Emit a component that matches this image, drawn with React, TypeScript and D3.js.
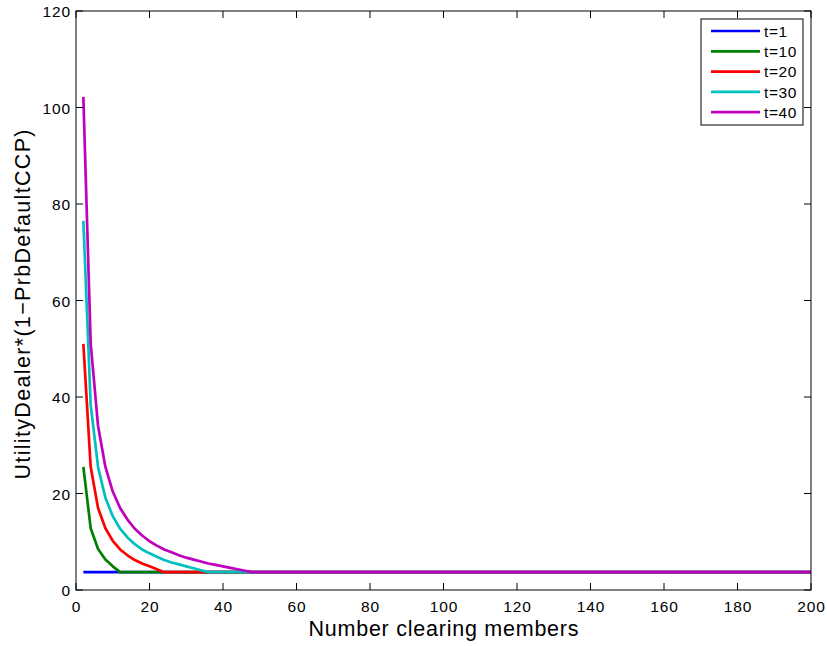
import React from "react";
import * as d3 from "d3";

const members = [2, 4, 6, 8, 10, 12, 14, 16, 18, 20, 22, 24, 26, 28, 30, 32, 34, 36, 38, 40, 42, 44, 46, 48, 50, 200];

const t1 = [3.7, 3.7, 3.7, 3.7, 3.7, 3.7, 3.7, 3.7, 3.7, 3.7, 3.7, 3.7, 3.7, 3.7, 3.7, 3.7, 3.7, 3.7, 3.7, 3.7, 3.7, 3.7, 3.7, 3.7, 3.7, 3.7];
const t10 = [25.5, 12.8, 8.5, 6.3, 4.9, 3.7, 3.7, 3.7, 3.7, 3.7, 3.7, 3.7, 3.7, 3.7, 3.7, 3.7, 3.7, 3.7, 3.7, 3.7, 3.7, 3.7, 3.7, 3.7, 3.7, 3.7];
const t20 = [51, 25.5, 17, 12.8, 10.2, 8.4, 7.2, 6.2, 5.5, 4.9, 4.3, 3.7, 3.7, 3.7, 3.7, 3.7, 3.7, 3.7, 3.7, 3.7, 3.7, 3.7, 3.7, 3.7, 3.7, 3.7];
const t30 = [76.5, 38.3, 25.5, 19.1, 15.3, 12.7, 10.9, 9.5, 8.4, 7.6, 6.9, 6.2, 5.7, 5.3, 4.9, 4.5, 4.1, 3.7, 3.7, 3.7, 3.7, 3.7, 3.7, 3.7, 3.7, 3.7];
const t40 = [102.2, 51, 34, 25.5, 20.4, 17, 14.6, 12.7, 11.3, 10.1, 9.2, 8.4, 7.8, 7.2, 6.7, 6.3, 5.9, 5.5, 5.2, 4.9, 4.6, 4.3, 4.0, 3.7, 3.7, 3.7];

const seriesNames = ["t=1", "t=10", "t=20", "t=30", "t=40"];
const seriesValues = [t1, t10, t20, t30, t40];
const seriesColors = ["#0000ff", "#008000", "#ff0000", "#00bfbf", "#bf00bf"];

const xTicks = [0, 20, 40, 60, 80, 100, 120, 140, 160, 180, 200];
const yTicks = [0, 20, 40, 60, 80, 100, 120];

const W = 827;
const H = 646;
const left = 76;
const right = 811;
const top = 11;
const bottom = 590;
const font = "'Liberation Sans', Arial, Helvetica, sans-serif";

export default function App() {
  const x = d3.scaleLinear().domain([0, 200]).range([left, right]);
  const y = d3.scaleLinear().domain([0, 120]).range([bottom, top]);
  const line = d3
    .line<[number, number]>()
    .x((d) => x(d[0]))
    .y((d) => y(d[1]));
  const tickLen = 7;

  const legX = 701;
  const legY = 19;
  const legW = 102;
  const legH = 106;
  const rowH = 20.3;

  return (
    <svg
      width={W}
      height={H}
      style={{ position: "absolute", left: 0, top: 0, background: "#fff" }}
      fontFamily={font}
    >
      <rect x={0} y={0} width={W} height={H} fill="#fff" />
      {seriesValues.map((vals, i) => (
        <path
          key={i}
          d={line(members.map((m, j) => [m, vals[j]] as [number, number])) || ""}
          fill="none"
          stroke={seriesColors[i]}
          strokeWidth={2.7}
          strokeLinejoin="round"
        />
      ))}
      <rect x={left} y={top} width={right - left} height={bottom - top} fill="none" stroke="#000" strokeWidth={1} />
      {xTicks.map((t) => (
        <g key={"x" + t}>
          <line x1={x(t)} x2={x(t)} y1={bottom} y2={bottom - tickLen} stroke="#000" />
          <line x1={x(t)} x2={x(t)} y1={top} y2={top + tickLen} stroke="#000" />
          <text x={x(t) + 0.5} y={612} textAnchor="middle" fontSize={15.5} letterSpacing={0.9} fill="#000">
            {t}
          </text>
        </g>
      ))}
      {yTicks.map((t) => (
        <g key={"y" + t}>
          <line x1={left} x2={left + tickLen} y1={y(t)} y2={y(t)} stroke="#000" />
          <line x1={right} x2={right - tickLen} y1={y(t)} y2={y(t)} stroke="#000" />
          <text x={71} y={y(t) + 6} textAnchor="end" fontSize={15.5} letterSpacing={0.9} fill="#000">
            {t}
          </text>
        </g>
      ))}
      <text
        x={(left + right) / 2}
        y={636}
        textAnchor="middle"
        fontSize={21.5}
        textLength={270}
        lengthAdjust="spacing"
        fill="#000"
      >
        Number clearing members
      </text>
      <text
        transform={`translate(30, ${(top + bottom) / 2 + 4}) rotate(-90)`}
        textAnchor="middle"
        fontSize={21.5}
        textLength={350}
        lengthAdjust="spacing"
        fill="#000"
      >
        UtilityDealer*(1−PrbDefaultCCP)
      </text>
      <rect x={legX} y={legY} width={legW} height={legH} fill="#fff" stroke="#000" strokeWidth={1} />
      {seriesNames.map((n, i) => (
        <g key={n}>
          <line
            x1={711}
            x2={760}
            y1={legY + 12 + i * rowH}
            y2={legY + 12 + i * rowH}
            stroke={seriesColors[i]}
            strokeWidth={2.7}
          />
          <text x={764} y={legY + 12 + i * rowH + 5.8} fontSize={15.5} letterSpacing={0.6} fill="#000">
            {n}
          </text>
        </g>
      ))}
    </svg>
  );
}
